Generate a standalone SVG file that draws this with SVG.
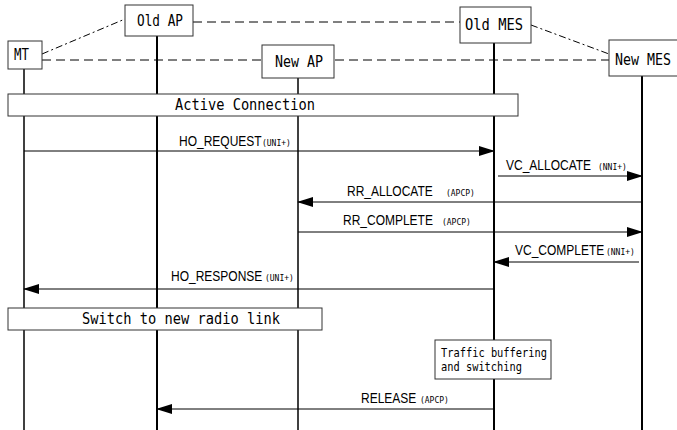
<svg xmlns="http://www.w3.org/2000/svg" width="677" height="430" viewBox="0 0 677 430">
<style>
.box{fill:#fff;stroke:#333;stroke-width:1}
.mono{font-family:"DejaVu Sans Mono","Liberation Mono",monospace;font-size:15px;fill:#000}
.tb{font-family:"DejaVu Sans Mono","Liberation Mono",monospace;font-size:12px;fill:#000}
.life{stroke:#000;stroke-width:2}
.msg{stroke:#000;stroke-width:1;fill:none}
.lbl{font-family:"Liberation Sans",Arial,sans-serif;font-size:12px;fill:#000}
.sm{font-family:"DejaVu Sans Mono","Liberation Mono",monospace;font-size:8px;fill:#000}
.dash{stroke:#000;stroke-width:1;stroke-dasharray:9,5;fill:none}
.dashdot{stroke:#000;stroke-width:1;stroke-dasharray:7,3,2,3;fill:none}
</style>
<defs>
<marker id="ah" markerWidth="16" markerHeight="10" refX="15" refY="5" orient="auto" markerUnits="userSpaceOnUse">
<path d="M0,0 L16,5 L0,10 Z" fill="#000"/>
</marker>
</defs>
<rect width="677" height="430" fill="#fff"/>
<g id="lifelines">
<line class="life" x1="24" y1="69" x2="24" y2="430" style="stroke-width:1.5"/>
<line class="life" x1="157" y1="36" x2="157" y2="430"/>
<line class="life" x1="298" y1="78" x2="298" y2="430" style="stroke-width:1.5"/>
<line class="life" x1="494" y1="43" x2="494" y2="430"/>
<line class="life" x1="642" y1="76" x2="642" y2="430"/>
</g>
<g id="links">
<line class="dash" x1="193" y1="22" x2="460" y2="22"/>
<line class="dash" x1="42" y1="60" x2="262" y2="60"/>
<line class="dash" x1="335" y1="60" x2="609" y2="60"/>
<line class="dashdot" x1="42" y1="54" x2="125" y2="19"/>
<line class="dashdot" x1="531" y1="25" x2="609" y2="54"/>
</g>
<g id="MT"><rect class="box" x="8" y="41" width="34" height="28"/><text class="mono" x="14" y="60" textLength="15" lengthAdjust="spacingAndGlyphs">MT</text></g>
<g id="OldAP"><rect class="box" x="125" y="5" width="68" height="31"/><text class="mono" x="137" y="26" textLength="46" lengthAdjust="spacingAndGlyphs">Old AP</text></g>
<g id="NewAP"><rect class="box" x="262" y="45" width="72" height="33"/><text class="mono" x="275" y="67" textLength="48" lengthAdjust="spacingAndGlyphs">New AP</text></g>
<g id="OldMES"><rect class="box" x="460" y="7" width="71" height="36"/><text class="mono" x="465" y="30" textLength="58" lengthAdjust="spacingAndGlyphs">Old MES</text></g>
<g id="NewMES"><rect class="box" x="609" y="40" width="70" height="36"/><text class="mono" x="615" y="65" textLength="56" lengthAdjust="spacingAndGlyphs">New MES</text></g>
<g id="active"><rect class="box" x="8" y="94" width="510" height="22"/><text class="mono" x="175" y="110" textLength="140" lengthAdjust="spacingAndGlyphs">Active Connection</text></g>
<g id="switch"><rect class="box" x="8" y="308" width="314" height="22"/><text class="mono" x="82" y="324" textLength="198" lengthAdjust="spacingAndGlyphs">Switch to new radio link</text></g>
<g id="traffic"><rect class="box" x="435" y="340" width="116" height="39"/><text class="tb" x="441" y="357" textLength="106" lengthAdjust="spacingAndGlyphs">Traffic buffering</text><text class="tb" x="441" y="371" textLength="81" lengthAdjust="spacingAndGlyphs">and switching</text></g>
<g id="connectors">
<line class="msg" x1="24" y1="151" x2="494" y2="151" marker-end="url(#ah)"/>
<text class="lbl" transform="translate(0,146) scale(1,1.15)"><tspan x="179" y="0">HO_REQUEST</tspan><tspan class="sm" x="262" y="0">(UNI+)</tspan></text>
<line class="msg" x1="498" y1="176" x2="642" y2="176" marker-end="url(#ah)"/>
<text class="lbl" transform="translate(0,170) scale(1,1.15)"><tspan x="506" y="0">VC_ALLOCATE</tspan><tspan class="sm" x="598" y="0">(NNI+)</tspan></text>
<line class="msg" x1="642" y1="202" x2="298" y2="202" marker-end="url(#ah)"/>
<text class="lbl" transform="translate(0,196) scale(1,1.15)"><tspan x="347" y="0">RR_ALLOCATE</tspan><tspan class="sm" x="446" y="0">(APCP)</tspan></text>
<line class="msg" x1="298" y1="232" x2="642" y2="232" marker-end="url(#ah)"/>
<text class="lbl" transform="translate(0,225) scale(1,1.15)"><tspan x="343" y="0">RR_COMPLETE</tspan><tspan class="sm" x="442" y="0">(APCP)</tspan></text>
<line class="msg" x1="639" y1="262" x2="494" y2="262" marker-end="url(#ah)"/>
<text class="lbl" transform="translate(0,255) scale(1,1.15)"><tspan x="515" y="0">VC_COMPLETE</tspan><tspan class="sm" x="606" y="0">(NNI+)</tspan></text>
<line class="msg" x1="494" y1="289" x2="24" y2="289" marker-end="url(#ah)"/>
<text class="lbl" transform="translate(0,281) scale(1,1.15)"><tspan x="171" y="0">HO_RESPONSE</tspan><tspan class="sm" x="265" y="0">(UNI+)</tspan></text>
<line class="msg" x1="494" y1="409" x2="157" y2="409" marker-end="url(#ah)"/>
<text class="lbl" transform="translate(0,403) scale(1,1.15)"><tspan x="361" y="0">RELEASE</tspan><tspan class="sm" x="420" y="0">(APCP)</tspan></text>
</g>
</svg>
